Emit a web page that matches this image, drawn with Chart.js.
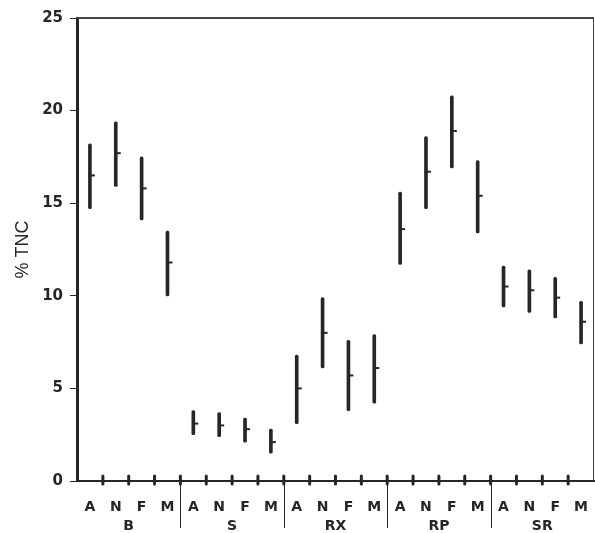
<!DOCTYPE html>
<html>
<head>
<meta charset="utf-8">
<script src="https://cdn.jsdelivr.net/npm/chart.js@4"></script>
<style>
  html, body { margin: 0; padding: 0; background: #fff; }
  #wrap { width: 595px; height: 533px; }
</style>
</head>
<body>
<div id="wrap"><canvas id="tncChart"></canvas></div>
<script>
// Data
const groups = ["B", "S", "RX", "RP", "SR"];
const months = ["A", "N", "F", "M"];
const lows = [14.7, 15.9, 14.1, 10.0, 2.5, 2.4, 2.1, 1.5, 3.1, 6.1, 3.8, 4.2, 11.7, 14.7, 16.9, 13.4, 9.4, 9.1, 8.8, 7.4];
const highs = [18.2, 19.4, 17.5, 13.5, 3.8, 3.7, 3.4, 2.8, 6.8, 9.9, 7.6, 7.9, 15.6, 18.6, 20.8, 17.3, 11.6, 11.4, 11.0, 9.7];
const means = [16.5, 17.7, 15.8, 11.8, 3.1, 3.0, 2.8, 2.1, 5.0, 8.0, 5.7, 6.1, 13.6, 16.7, 18.9, 15.4, 10.5, 10.3, 9.9, 8.6];
const yTicks = [0, 5, 10, 15, 20, 25];

const labels = [];
groups.forEach(() => months.forEach((m) => labels.push(m)));
const ranges = lows.map((lo, i) => [lo, highs[i]]);

const ink = "#262626";
const boldFont = "'DejaVu Sans', Verdana, sans-serif";

// Mean ticks, axis marks, plot frame, group labels and separators
const extras = {
  id: "extras",
  afterDatasetsDraw(chart) {
    const { ctx, chartArea, scales } = chart;
    const x = scales.x, y = scales.y;
    const step = x.getPixelForValue(1) - x.getPixelForValue(0);
    ctx.save();
    // mean ticks to the right of each bar
    ctx.strokeStyle = ink;
    ctx.lineWidth = 2;
    means.forEach((m, i) => {
      const px = x.getPixelForValue(i);
      const py = y.getPixelForValue(m);
      ctx.beginPath();
      ctx.moveTo(px, py);
      ctx.lineTo(px + 5, py);
      ctx.stroke();
    });
    // tick marks straddling the x axis between categories
    ctx.lineWidth = 3;
    ctx.lineCap = "round";
    for (let i = 1; i < labels.length; i++) {
      const bx = x.getPixelForValue(i) - step / 2;
      ctx.beginPath();
      ctx.moveTo(bx, chartArea.bottom - 5);
      ctx.lineTo(bx, chartArea.bottom + 3);
      ctx.stroke();
    }
    ctx.lineCap = "butt";
    // top and right frame
    ctx.strokeStyle = "#444";
    ctx.lineWidth = 2;
    ctx.beginPath();
    ctx.moveTo(chartArea.left, chartArea.top);
    ctx.lineTo(chartArea.right, chartArea.top);
    ctx.stroke();
    ctx.lineWidth = 1;
    ctx.beginPath();
    ctx.moveTo(chartArea.right - 0.5, chartArea.top);
    ctx.lineTo(chartArea.right - 0.5, chartArea.bottom);
    ctx.stroke();
    // group separators and names
    ctx.strokeStyle = ink;
    ctx.lineWidth = 1;
    ctx.fillStyle = ink;
    ctx.font = "bold 14px " + boldFont;
    ctx.textAlign = "center";
    ctx.textBaseline = "middle";
    groups.forEach((g, gi) => {
      const first = x.getPixelForValue(gi * 4);
      const last = x.getPixelForValue(gi * 4 + 3);
      ctx.fillText(g, (first + last) / 2, chartArea.bottom + 45);
      if (gi > 0) {
        const bx = Math.round(first - step / 2) + 0.5;
        ctx.beginPath();
        ctx.moveTo(bx, chartArea.bottom + 1);
        ctx.lineTo(bx, chartArea.bottom + 47);
        ctx.stroke();
      }
    });
    ctx.restore();
  },
};

const ctx = document.getElementById("tncChart").getContext("2d");
const chart = new Chart(ctx, {
  type: "bar",
  data: {
    labels: labels,
    datasets: [
      {
        label: "range",
        data: ranges,
        backgroundColor: ink,
        borderWidth: 0,
        borderRadius: 1.5,
        borderSkipped: false,
        barThickness: 3,
      },
    ],
  },
  options: {
    responsive: true,
    maintainAspectRatio: false,
    animation: false,
    layout: { padding: { top: 18, right: 1, left: 0, bottom: 0 } },
    plugins: {
      legend: { display: false },
      tooltip: { enabled: false },
    },
    scales: {
      x: {
        offset: true,
        afterFit: (scale) => {
          scale.height = 52;
          scale.paddingLeft = 0;
          scale.paddingRight = 0;
        },
        grid: {
          offset: true,
          drawOnChartArea: false,
          tickLength: 5,
          color: "rgba(0,0,0,0)",
        },
        border: { color: ink, width: 2 },
        ticks: {
          color: ink,
          padding: 13,
          autoSkip: false,
          maxRotation: 0,
          font: { family: boldFont, size: 14, weight: "bold" },
        },
      },
      y: {
        min: 0,
        max: 25,
        afterFit: (scale) => {
          scale.width = 77;
          scale.paddingTop = 0;
          scale.paddingBottom = 0;
        },
        afterBuildTicks: (scale) => { scale.ticks = yTicks.map((v) => ({ value: v })); },
        grid: {
          drawOnChartArea: false,
          tickLength: 7,
          tickWidth: 1,
          color: ink,
        },
        border: { color: ink, width: 3 },
        ticks: {
          color: ink,
          padding: 7,
          font: { family: boldFont, size: 15, weight: "bold" },
        },
        title: {
          display: true,
          text: "% TNC",
          color: ink,
          padding: { top: 12, bottom: 0 },
          font: { family: "'Liberation Sans', Arial, sans-serif", size: 18 },
        },
      },
    },
  },
  plugins: [extras],
});
</script>
</body>
</html>
